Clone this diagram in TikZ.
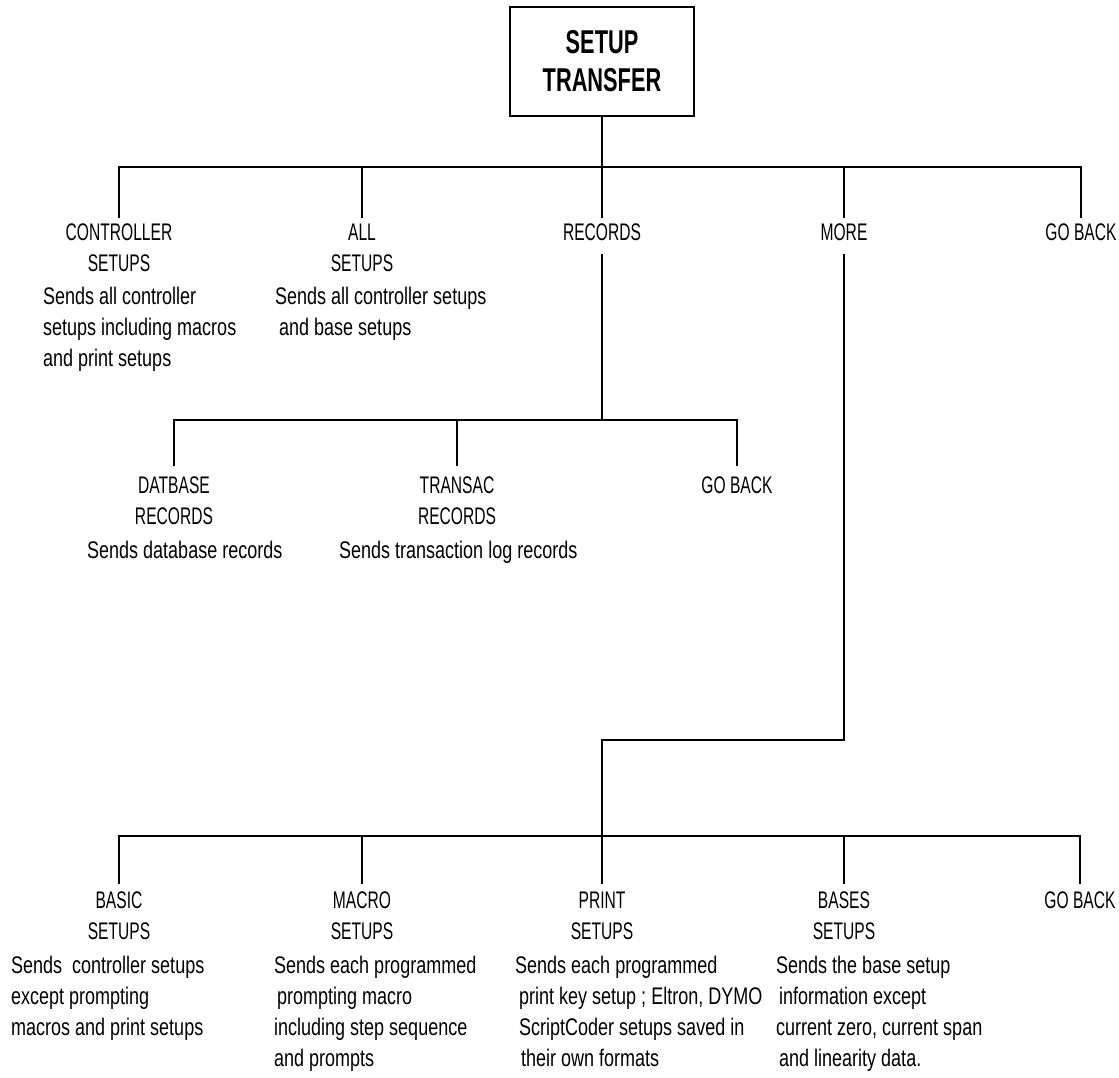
\documentclass[tikz,border=0pt]{standalone}
\usepackage{fontspec}
\setmainfont{Liberation Sans}[FakeStretch=0.75]
\newfontfamily\capsfont{Liberation Sans}[FakeStretch=0.65]
\newfontfamily\titlefont{Liberation Sans}[FakeStretch=0.66]
\tikzset{head/.style={anchor=north,inner sep=0pt,align=center,font=\capsfont\fontsize{24pt}{31pt}\selectfont},desc/.style={anchor=north west,inner sep=0pt,align=left,font=\fontsize{24pt}{31pt}\selectfont},link/.style={draw=black,line width=1.2pt},stem/.style={link,shorten >=#1},stem/.default=6pt,titlebox/.style={draw,line width=1.3pt,minimum width=184pt,minimum height=109pt,align=center,inner sep=0pt,font=\titlefont\bfseries\fontsize{33pt}{38pt}\selectfont}}

\begin{document}
\begin{tikzpicture}[x=1pt,y=-1pt]
\useasboundingbox (0,0) rectangle (1119,1078);
\node[titlebox] (title) at (602,61.5) {SETUP\\TRANSFER};
\coordinate (bar1) at (602,167);
\coordinate (bar2) at (602,420);
\coordinate (bend) at (602,740);
\coordinate (bar3) at (602,836);
% first level
\node[head] (ctrl) at (119,224) {CONTROLLER\\SETUPS};
\node[head] (allset) at (362,224) {ALL\\SETUPS};
\node[head] (recs) at (602,224) {RECORDS};
\node[head] (more) at (844,224) {MORE};
\node[head] (back1) at (1081,224) {GO BACK};
\node[desc] (ctrld) at (43,287) {Sends all controller\\setups including macros\\and print setups};
\node[desc] (alld) at (275,287) {Sends all controller setups\\\hspace*{4pt}and base setups};
% records
\node[head] (dbrec) at (174,477) {DATBASE\\RECORDS};
\node[head] (trrec) at (457,477) {TRANSAC\\RECORDS};
\node[head] (back2) at (737,477) {GO BACK};
\node[desc] (dbd) at (87,541) {Sends database records};
\node[desc] (trd) at (339,541) {Sends transaction log records};
% more
\node[head] (basic) at (119,892) {BASIC\\SETUPS};
\node[head] (macro) at (362,892) {MACRO\\SETUPS};
\node[head] (print) at (602,892) {PRINT\\SETUPS};
\node[head] (bases) at (844,892) {BASES\\SETUPS};
\node[head] (back3) at (1080,892) {GO BACK};
\node[desc] (basicd) at (11,956) {Sends~ controller setups\\except prompting\\macros and print setups};
\node[desc] (macrod) at (274,956) {Sends each programmed\\\hspace*{3pt}prompting macro\\including step sequence\\and prompts};
\node[desc] (printd) at (515,956) {Sends each programmed\\\hspace*{4pt}print key setup ; Eltron, DYMO\\\hspace*{4pt}ScriptCoder setups saved in\\\hspace*{6pt}their own formats};
\node[desc] (basesd) at (776,956) {Sends the base setup\\\hspace*{3pt}information except\\current zero, current span\\\hspace*{3pt}and linearity data.};
% connectors
\draw[link] (title) -- (bar1);
\draw[link,shorten <=6pt,shorten >=6pt] (ctrl.north) |- (bar1) -| (back1.north);
\draw[stem] (bar1 -| allset.north) -- (allset);
\draw[stem] (bar1) -- (recs);
\draw[stem] (bar1 -| more.north) -- (more);
\draw[link,shorten <=13pt] (recs.south) -- (bar2);
\draw[link,shorten <=11pt,shorten >=11pt] (dbrec.north) |- (bar2) -| (back2.north);
\draw[stem=11pt] (bar2 -| trrec.north) -- (trrec);
\draw[link,shorten <=13pt] (more.south) |- (bend) -- (bar3);
\draw[link,shorten <=8pt,shorten >=8pt] (basic.north) |- (bar3) -| (back3.north);
\draw[stem=8pt] (bar3 -| macro.north) -- (macro);
\draw[stem=8pt] (bar3) -- (print);
\draw[stem=8pt] (bar3 -| bases.north) -- (bases);
\end{tikzpicture}
\end{document}
